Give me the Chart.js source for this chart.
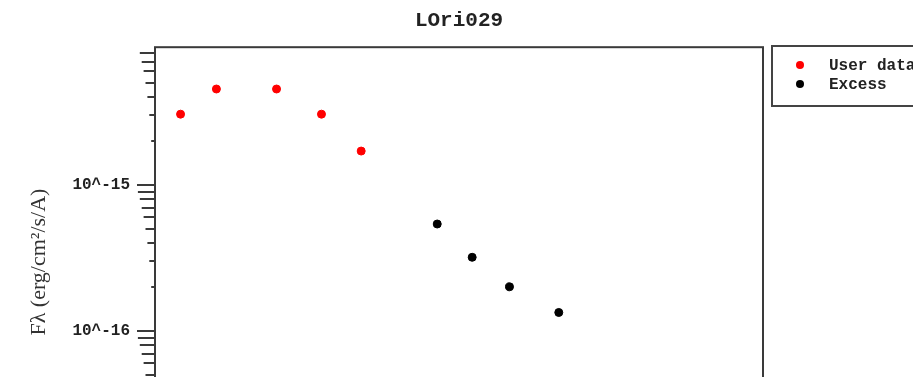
<!DOCTYPE html>
<html>
<head>
<meta charset="utf-8">
<script src="https://cdn.jsdelivr.net/npm/chart.js@4.4.1/dist/chart.umd.min.js"></script>
<style>
  html, body { margin: 0; padding: 0; background: #ffffff; overflow: hidden; width: 913px; height: 377px; }
  canvas { display: block; }
</style>
</head>
<body>
<canvas id="c" width="1000" height="517" style="width:1000px;height:517px"></canvas>
<script>
// ---- data ----
const chartTitle = 'LOri029';
const seriesNames = ['User data', 'Excess'];
const userWave = [6420, 8150, 12160, 16400, 21360];          // Å
const userFlux = [3.06e-15, 4.55e-15, 4.55e-15, 3.06e-15, 1.71e-15];
const excessWave = [35430, 44710, 57320, 79560];             // Å
const excessFlux = [5.41e-16, 3.20e-16, 2.01e-16, 1.34e-16];
const yAxisTitle = 'F\u03BB (erg/cm\u00B2/s/A)';
const yMajorExponents = [-17, -16, -15];

const toPoints = (xs, ys) => xs.map((x, i) => ({ x: x, y: ys[i] }));

const frameColor = '#3a3a3a';

const framePlugin = {
  id: 'frameAndTicks',
  afterDraw(chart) {
    const ctx = chart.ctx;
    const a = chart.chartArea;
    const ys = chart.scales.y;
    ctx.save();
    ctx.strokeStyle = frameColor;
    ctx.lineWidth = 2;
    ys.ticks.forEach(t => {
      const v = t.value;
      const e = Math.floor(Math.log10(v) + 1e-9);
      const m = Math.round(v / Math.pow(10, e));
      const len = (m === 1) ? 18 : 1.9 * m;
      const y = Math.round(ys.getPixelForValue(v));
      if (y < a.top - 1 || y > a.bottom + 1) return;
      ctx.beginPath();
      ctx.moveTo(a.left - len, y);
      ctx.lineTo(a.left, y);
      ctx.stroke();
    });
    ctx.lineWidth = 2;
    ctx.strokeRect(a.left, a.top, a.right - a.left, a.bottom - a.top);
    const lx = 772, ly = 46, lw = 220, lh = 60;
    ctx.lineWidth = 2;
    ctx.strokeStyle = '#444';
    ctx.strokeRect(lx, ly, lw, lh);
    ctx.font = 'bold 16px "Liberation Mono"';
    ctx.textBaseline = 'middle';
    ctx.textAlign = 'left';
    chart.data.datasets.forEach((ds, i) => {
      const cy = 65 + i * 19;
      ctx.fillStyle = ds.backgroundColor;
      ctx.beginPath();
      ctx.arc(800, cy, 4, 0, Math.PI * 2);
      ctx.fill();
      ctx.fillStyle = '#222';
      ctx.fillText(ds.label, 829, cy + 1);
    });
    ctx.restore();
  }
};

new Chart(document.getElementById('c'), {
  type: 'scatter',
  data: {
    datasets: [
      { label: seriesNames[0], data: toPoints(userWave, userFlux),
        backgroundColor: '#ff0000', borderColor: '#ff0000',
        pointRadius: 4, pointBorderWidth: 1, pointHoverRadius: 4 },
      { label: seriesNames[1], data: toPoints(excessWave, excessFlux),
        backgroundColor: '#000000', borderColor: '#000000',
        pointRadius: 4, pointBorderWidth: 1, pointHoverRadius: 4 }
    ]
  },
  options: {
    responsive: false,
    animation: false,
    layout: { padding: { left: 0, right: 237, top: 0, bottom: 0 } },
    plugins: {
      legend: { display: false },
      tooltip: { enabled: false },
      title: {
        display: true, text: chartTitle, fullSize: false,
        color: '#222',
        font: { family: 'Liberation Mono', weight: 'bold', size: 21 },
        padding: { top: 8, bottom: 14 }
      }
    },
    scales: {
      x: {
        type: 'logarithmic', min: 5416, max: 309700,
        grid: { display: false, drawTicks: false },
        border: { display: false },
        ticks: { display: true, color: '#222', font: { family: 'Liberation Mono', weight: 'bold', size: 16 } },
        afterFit(s) { s.height = 40; }
      },
      y: {
        type: 'logarithmic', min: 1e-17, max: 8.8e-15,
        grid: { display: false, drawTicks: false },
        border: { display: false },
        afterBuildTicks(s) {
          const t = [];
          for (let e = -18; e <= -14; e++) {
            for (let m = 1; m <= 9; m++) {
              const v = m * Math.pow(10, e);
              if (v >= s.min * 0.999 && v <= s.max * 1.001) t.push({ value: v });
            }
          }
          s.ticks = t;
        },
        ticks: {
          autoSkip: false, padding: 25, color: '#222',
          font: { family: 'Liberation Mono', weight: 'bold', size: 16 },
          callback(v) {
            const e = Math.round(Math.log10(v));
            if (Math.abs(v / Math.pow(10, e) - 1) < 1e-6 && yMajorExponents.includes(e) && e > -17) return '10^' + e;
            return '';
          }
        },
        title: {
          display: true, text: yAxisTitle, color: '#333',
          font: { family: 'Liberation Serif', size: 22 },
          padding: { top: 26, bottom: 0 }
        },
        afterFit(s) { s.width = 155; }
      }
    }
  },
  plugins: [framePlugin]
});
</script>
</body>
</html>
